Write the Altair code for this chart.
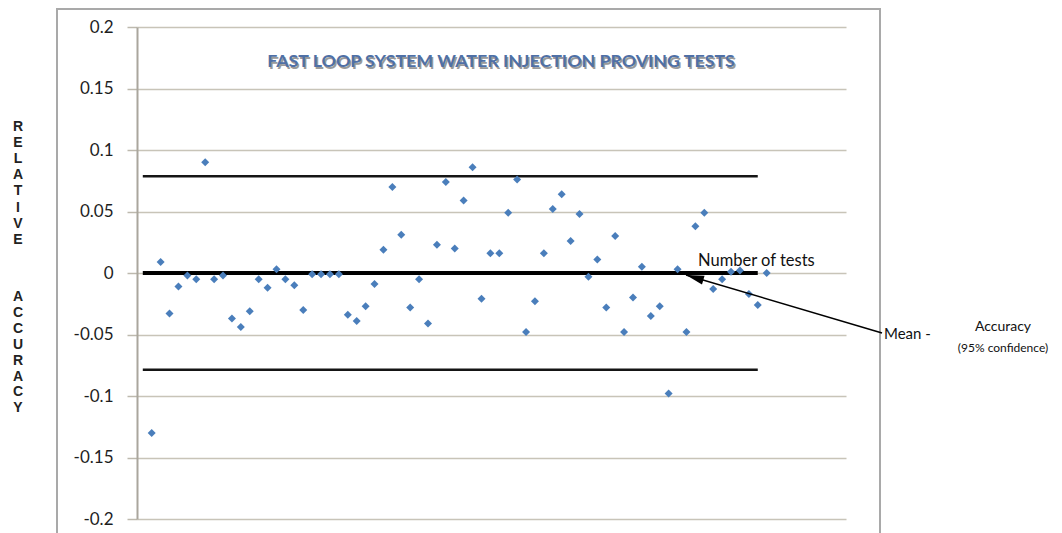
import altair as alt
import pandas as pd

# ---- data ----
test_no = list(range(1, 71))
rel_acc = [-0.130, 0.009, -0.033, -0.011, -0.002, -0.005, 0.090, -0.005, -0.002, -0.037,
           -0.044, -0.031, -0.005, -0.012, 0.003, -0.005, -0.010, -0.030, -0.001, -0.001,
           -0.001, -0.001, -0.034, -0.039, -0.027, -0.009, 0.019, 0.070, 0.031, -0.028,
           -0.005, -0.041, 0.023, 0.074, 0.020, 0.059, 0.086, -0.021, 0.016, 0.016,
           0.049, 0.076, -0.048, -0.023, 0.016, 0.052, 0.064, 0.026, 0.048, -0.003,
           0.011, -0.028, 0.030, -0.048, -0.020, 0.005, -0.035, -0.027, -0.098, 0.003,
           -0.048, 0.038, 0.049, -0.013, -0.005, 0.001, 0.002, -0.017, -0.026, 0.000]
limit_levels = [0.0787, -0.0787]   # accuracy (95% confidence)
mean_levels = [0.0]
line_from = [0]
line_to = [69]
y_ticks = [-0.2, -0.15, -0.1, -0.05, 0, 0.05, 0.1, 0.15, 0.2]
arrow_tail = [82.94, -0.0488]
arrow_tip = [60.95, -0.0016]

title_text = "FAST LOOP SYSTEM WATER INJECTION PROVING TESTS"
y_title_1 = list("RELATIVE")
y_title_2 = list("ACCURACY")
note_tests = "Number of tests"
note_mean = "Mean -"
note_acc = "Accuracy"
note_conf = "(95% confidence)"

points_df = pd.DataFrame({"test": test_no, "acc": rel_acc})
limits_df = pd.DataFrame({"x0": line_from * len(limit_levels), "x1": line_to * len(limit_levels), "level": limit_levels})
mean_df = pd.DataFrame({"x0": line_from, "x1": line_to, "level": mean_levels})
arrow_df = pd.DataFrame({"xt": [arrow_tail[0]], "yt": [arrow_tail[1]], "xh": [arrow_tip[0]], "yh": [arrow_tip[1]]})
one = alt.Data(values=[{}])

W, H = 709, 492
xs = alt.Scale(domain=[-0.65, 78.9], nice=False, zero=False)
ys = alt.Scale(domain=[-0.2, 0.2], nice=False, zero=False)
y_axis = alt.Axis(values=y_ticks, labelExpr="'' + datum.value", grid=True,
                  gridColor="#c8c4b8", gridWidth=1.5, domainColor="#aaa69d", domainWidth=2,
                  tickColor="#bdb9ae", tickWidth=1.5, tickSize=10, labelFont="Lato",
                  labelFontSize=17, labelColor="#1e1e1e", labelPadding=14, title="")

frame = alt.Chart(one).mark_rect(fillOpacity=0, stroke="#a9a9a9", strokeWidth=2).encode(
    x=alt.value(-80), x2=alt.value(743), y=alt.value(-18), y2=alt.value(620))

limits = alt.Chart(limits_df).mark_rule(color="#151515", strokeWidth=2.5).encode(
    x=alt.X("x0:Q", scale=xs, axis=None), x2="x1:Q",
    y=alt.Y("level:Q", scale=ys, axis=y_axis))
mean = alt.Chart(mean_df).mark_rule(color="#000000", strokeWidth=4).encode(
    x=alt.X("x0:Q", scale=xs, axis=None), x2="x1:Q",
    y=alt.Y("level:Q", scale=ys, axis=y_axis))

points = alt.Chart(points_df).mark_point(shape="diamond", filled=True, size=64,
                                          color="#4a7ebb", opacity=1).encode(
    x=alt.X("test:Q", scale=xs, axis=None),
    y=alt.Y("acc:Q", scale=ys, axis=y_axis))

arrow_line = alt.Chart(arrow_df).mark_rule(color="#000000", strokeWidth=1.5).encode(
    x=alt.X("xt:Q", scale=xs, axis=None), x2="xh:Q",
    y=alt.Y("yt:Q", scale=ys, axis=y_axis), y2="yh:Q")
arrow_head = alt.Chart(arrow_df).mark_point(shape="M0,0L-0.5,2L0.5,2Z", filled=True, size=324,
                                             angle=286.5, color="#000000", opacity=1,
                                             strokeWidth=0).encode(
    x=alt.X("xh:Q", scale=xs, axis=None),
    y=alt.Y("yh:Q", scale=ys, axis=y_axis))

title_shadow = alt.Chart(one).mark_text(text=title_text, font="Lato", fontWeight="bold",
                                        fontSize=17.8, color="#9a9a9a", align="center",
                                        baseline="middle").encode(
    x=alt.value(365.5), y=alt.value(36.5))
title = alt.Chart(one).mark_text(text=title_text, font="Lato", fontWeight="bold",
                                 fontSize=17.8, color="#4f70a6", align="center",
                                 baseline="middle").encode(
    x=alt.value(364), y=alt.value(35))

yt1 = alt.Chart(one).mark_text(text=y_title_1, font="Liberation Sans", fontWeight="bold",
                               fontSize=14, lineHeight=16.1, color="#222222", align="center",
                               baseline="middle").encode(x=alt.value(-119), y=alt.value(100))
yt2 = alt.Chart(one).mark_text(text=y_title_2, font="Liberation Sans", fontWeight="bold",
                               fontSize=14, lineHeight=15.9, color="#222222", align="center",
                               baseline="middle").encode(x=alt.value(-119), y=alt.value(270))

t_tests = alt.Chart(one).mark_text(text=note_tests, font="Lato", fontSize=16.5, color="#111111",
                                   align="left", baseline="middle").encode(
    x=alt.value(561), y=alt.value(234))
t_mean = alt.Chart(one).mark_text(text=note_mean, font="Lato", fontSize=15, color="#111111",
                                  align="left", baseline="middle").encode(
    x=alt.value(747), y=alt.value(307))
t_acc = alt.Chart(one).mark_text(text=note_acc, font="Lato", fontSize=14, color="#111111",
                                 align="center", baseline="middle").encode(
    x=alt.value(866), y=alt.value(300))
t_conf = alt.Chart(one).mark_text(text=note_conf, font="Lato", fontSize=12, color="#111111",
                                  align="center", baseline="middle").encode(
    x=alt.value(866), y=alt.value(321))

chart = alt.layer(
    frame, limits, mean, points, arrow_line, arrow_head,
    title_shadow, title, yt1, yt2, t_tests, t_mean, t_acc, t_conf
).properties(
    width=W, height=H,
    autosize=alt.AutoSizeParams(type="none"),
    padding={"left": 129, "top": 19, "right": 208, "bottom": 14},
    background="white",
).configure_view(strokeWidth=0)

chart.save("out.html", embed_options={"renderer": "svg", "actions": False})
